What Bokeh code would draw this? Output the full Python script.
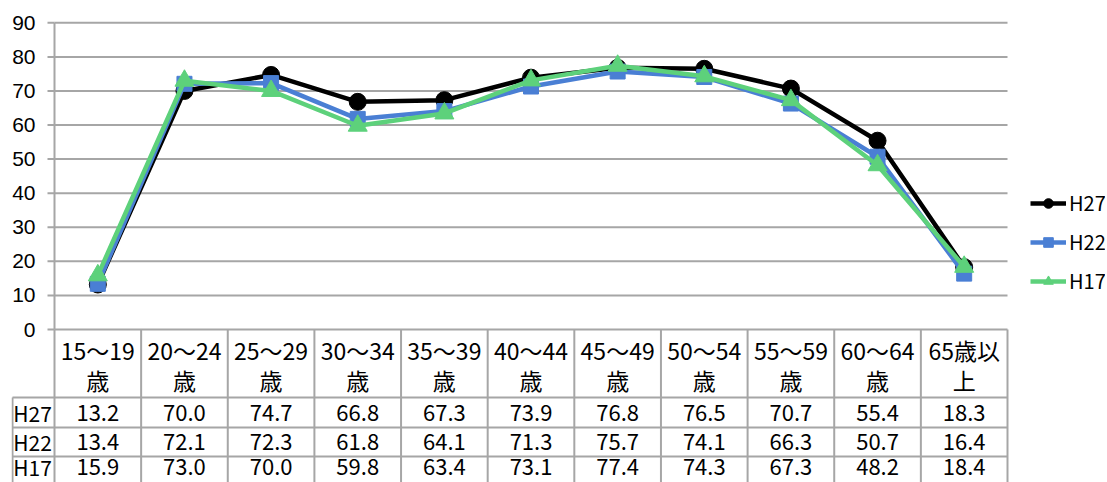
from bokeh.plotting import figure
from bokeh.models import Legend, LegendItem
from bokeh.core.properties import value
from bokeh.embed import file_html
from bokeh.resources import INLINE

# ---------------- data ----------------
categories = ["15～19\n歳", "20～24\n歳", "25～29\n歳", "30～34\n歳", "35～39\n歳",
              "40～44\n歳", "45～49\n歳", "50～54\n歳", "55～59\n歳", "60～64\n歳",
              "65歳以\n上"]
series_names = ["H27", "H22", "H17"]
h27 = [13.2, 70.0, 74.7, 66.8, 67.3, 73.9, 76.8, 76.5, 70.7, 55.4, 18.3]
h22 = [13.4, 72.1, 72.3, 61.8, 64.1, 71.3, 75.7, 74.1, 66.3, 50.7, 16.4]
h17 = [15.9, 73.0, 70.0, 59.8, 63.4, 73.1, 77.4, 74.3, 67.3, 48.2, 18.4]
y_ticks = [0, 10, 20, 30, 40, 50, 60, 70, 80, 90]

# ---------------- layout (page pixels) ----------------
PAGE = 0
W, H = 1105, 482
X0_PX, XN_PX = 54, 1007
Y0_PX, Y90_PX = 329, 22.3
FRAME_L, FRAME_T = 11, 6
FRAME_R, FRAME_B = PAGE + W, PAGE + H
N = len(categories)
XSTEP = (XN_PX - X0_PX) / N
YPP = (Y0_PX - Y90_PX) / 90.0


def dx(px):
    return px / XSTEP


def page_y(py):
    return -(py - Y0_PX) / YPP


def page_x(px):
    return (px - X0_PX) / XSTEP


x_start, x_end = page_x(FRAME_L), page_x(FRAME_R)
y_start, y_end = page_y(FRAME_B), page_y(FRAME_T)

p = figure(width=W, height=H, x_range=(x_start, x_end), y_range=(y_start, y_end),
           x_axis_type=None, y_axis_type=None, toolbar_location=None,
           output_backend="svg", min_border_left=FRAME_L - PAGE,
           min_border_top=FRAME_T - PAGE, min_border_right=0, min_border_bottom=0,
           outline_line_color=None)

GRID = "#a6a6a6"
CJK_NAME = "Noto Sans CJK JP"
CJK = value(CJK_NAME)

# gridlines (and axis baseline / table top)
p.segment(x0=[0] * len(y_ticks), x1=[N] * len(y_ticks), y0=y_ticks, y1=y_ticks,
          line_color=GRID, line_width=2)
# axis line
p.segment(x0=[0], x1=[0], y0=[0], y1=[max(y_ticks)], line_color=GRID, line_width=2)
# tick marks
p.segment(x0=[-dx(7)] * len(y_ticks), x1=[0] * len(y_ticks), y0=y_ticks, y1=y_ticks,
          line_color=GRID, line_width=2)
# tick labels
p.text(x=[-dx(19)] * len(y_ticks), y=y_ticks, text=[str(t) for t in y_ticks],
       text_align="right", text_baseline="middle", text_font=value("Liberation Sans"),
       text_font_size="21px", text_color="#000000")

# ---------------- table ----------------
hdr_bottom = page_y(397)
row_bounds = [page_y(397), page_y(427), page_y(456), page_y(485)]
row_centers = [page_y(412), page_y(441.5), page_y(466.5)]
x_left = page_x(12)
# vertical lines
p.segment(x0=list(range(N + 1)), x1=list(range(N + 1)), y0=[0] * (N + 1),
          y1=[y_start] * (N + 1), line_color=GRID, line_width=2)
p.segment(x0=[x_left], x1=[x_left], y0=[hdr_bottom], y1=[y_start],
          line_color=GRID, line_width=2)
# horizontal lines
p.segment(x0=[x_left] * 4, x1=[N] * 4, y0=row_bounds, y1=row_bounds,
          line_color=GRID, line_width=2)

xc = [i + 0.5 for i in range(N)]
top_lines = [c.split("\n")[0] for c in categories]
bot_lines = [c.split("\n")[1] for c in categories]
p.text(x=xc, y=[page_y(349)] * N, text=top_lines, text_align="center",
       text_baseline="middle", text_font=CJK, text_font_size="23px", text_color="#000000")
p.text(x=xc, y=[page_y(379)] * N, text=bot_lines, text_align="center",
       text_baseline="middle", text_font=CJK, text_font_size="23px", text_color="#000000")

all_series = [h27, h22, h17]
for r, (name, vals) in enumerate(zip(series_names, all_series)):
    yc = row_centers[r]
    p.text(x=xc, y=[yc] * N, text=[f"{v:.1f}" for v in vals], text_align="center",
           text_baseline="middle", text_font=CJK, text_font_size="22px",
           text_color="#000000")
    p.text(x=[page_x(32)], y=[yc], text=[name], text_align="center",
           text_baseline="middle", text_font=CJK, text_font_size="21px",
           text_color="#000000")

# ---------------- series ----------------
colors = ["#000000", "#4a7fd4", "#5dd17b"]
markers = ["circle", "square", "triangle"]
sizes = [17, 15, 19]
items = []
for name, vals, col, mk, sz in zip(series_names, all_series, colors, markers, sizes):
    lr = p.line(xc, vals, line_color=col, line_width=4.5)
    sr = p.scatter(xc, vals, marker=mk, size=sz, fill_color=col, line_color=col)
    items.append(LegendItem(label=name, renderers=[lr, sr]))

legend = Legend(items=items, location=(1030 - FRAME_L, FRAME_B - 295),
                orientation="vertical", glyph_width=36, glyph_height=24,
                label_height=24, spacing=10, padding=0, margin=0,
                border_line_alpha=0, background_fill_alpha=0, label_standoff=3,
                label_text_font=CJK_NAME, label_text_font_size="20px",
                label_text_color="#000000")
p.add_layout(legend)

open("out.html", "w").write(file_html(p, INLINE))
